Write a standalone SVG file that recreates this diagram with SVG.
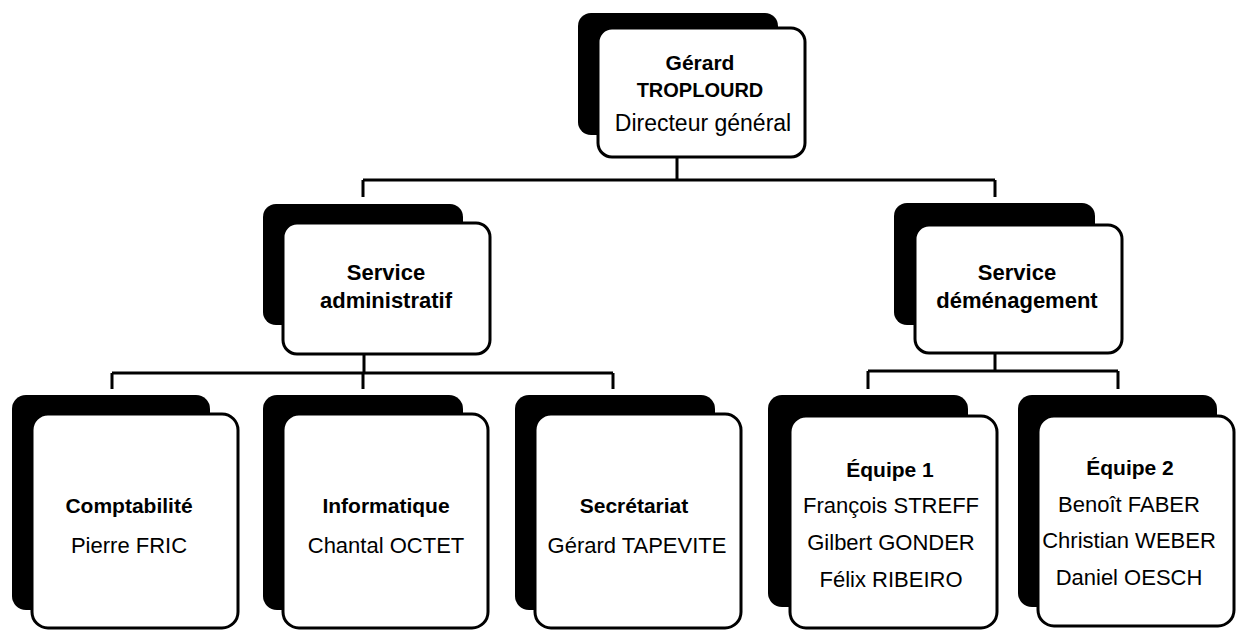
<svg xmlns="http://www.w3.org/2000/svg" width="1236" height="634" viewBox="0 0 1236 634">
<style>
.sh{fill:#000}
.fr{fill:#fff;stroke:#000;stroke-width:3}
.b{font-family:"Liberation Sans",Arial,sans-serif;font-weight:bold;font-size:21px;fill:#000;text-anchor:middle}
.b2{font-size:22px}
.r{font-family:"Liberation Sans",Arial,sans-serif;font-size:22px;fill:#000;text-anchor:middle}
.c{fill:none;stroke:#000;stroke-width:3}
</style>
<rect width="1236" height="634" fill="#fff"/>
<g id="connectors" class="c">
<path d="M677 157V180M363 180H995M363 180V197M995 180V197"/>
<path d="M364 355V373M112 373H613M112 373V389M363 373V389M613 373V389"/>
<path d="M995 353V371M868 371H1118M868 371V389M1118 371V389"/>
</g>
<g id="n-directeur">
<rect class="sh" x="578" y="13" width="200" height="122" rx="13"/>
<rect class="fr" x="598" y="28" width="207" height="129" rx="14"/>
<text class="b" x="700" y="70">Gérard</text>
<text class="b" x="700" y="97" style="font-size:20px">TROPLOURD</text>
<text class="r" x="703" y="131" style="font-size:23px">Directeur général</text>
</g>
<g id="n-admin">
<rect class="sh" x="263" y="204" width="200" height="121" rx="13"/>
<rect class="fr" x="283" y="223" width="207" height="131" rx="14"/>
<text class="b b2" x="386" y="280">Service</text>
<text class="b b2" x="386" y="308">administratif</text>
</g>
<g id="n-demenagement">
<rect class="sh" x="894" y="203" width="201" height="122" rx="13"/>
<rect class="fr" x="915" y="225" width="207" height="128" rx="14"/>
<text class="b b2" x="1017" y="280">Service</text>
<text class="b b2" x="1017" y="308">déménagement</text>
</g>
<g id="n-compta">
<rect class="sh" x="12" y="395" width="198" height="215" rx="14"/>
<rect class="fr" x="32" y="414" width="206" height="214" rx="16"/>
<text class="b" x="129" y="513">Comptabilité</text>
<text class="r" x="129" y="553">Pierre FRIC</text>
</g>
<g id="n-info">
<rect class="sh" x="263" y="395" width="200" height="215" rx="14"/>
<rect class="fr" x="283" y="414" width="205" height="214" rx="16"/>
<text class="b" x="386" y="513">Informatique</text>
<text class="r" x="386" y="553">Chantal OCTET</text>
</g>
<g id="n-secretariat">
<rect class="sh" x="515" y="395" width="200" height="215" rx="14"/>
<rect class="fr" x="535" y="414" width="206" height="214" rx="16"/>
<text class="b" x="634" y="513">Secrétariat</text>
<text class="r" x="637" y="553">Gérard TAPEVITE</text>
</g>
<g id="n-equipe1">
<rect class="sh" x="768" y="395" width="200" height="212" rx="14"/>
<rect class="fr" x="790" y="416" width="207" height="212" rx="16"/>
<text class="b" x="890" y="477">Équipe 1</text>
<text class="r" x="891" y="513">François STREFF</text>
<text class="r" x="891" y="550">Gilbert GONDER</text>
<text class="r" x="891" y="587">Félix RIBEIRO</text>
</g>
<g id="n-equipe2">
<rect class="sh" x="1018" y="395" width="199" height="212" rx="14"/>
<rect class="fr" x="1038" y="416" width="196" height="210" rx="16"/>
<text class="b" x="1130" y="475">Équipe 2</text>
<text class="r" x="1129" y="512">Benoît FABER</text>
<text class="r" x="1129" y="548">Christian WEBER</text>
<text class="r" x="1129" y="585">Daniel OESCH</text>
</g>
</svg>
